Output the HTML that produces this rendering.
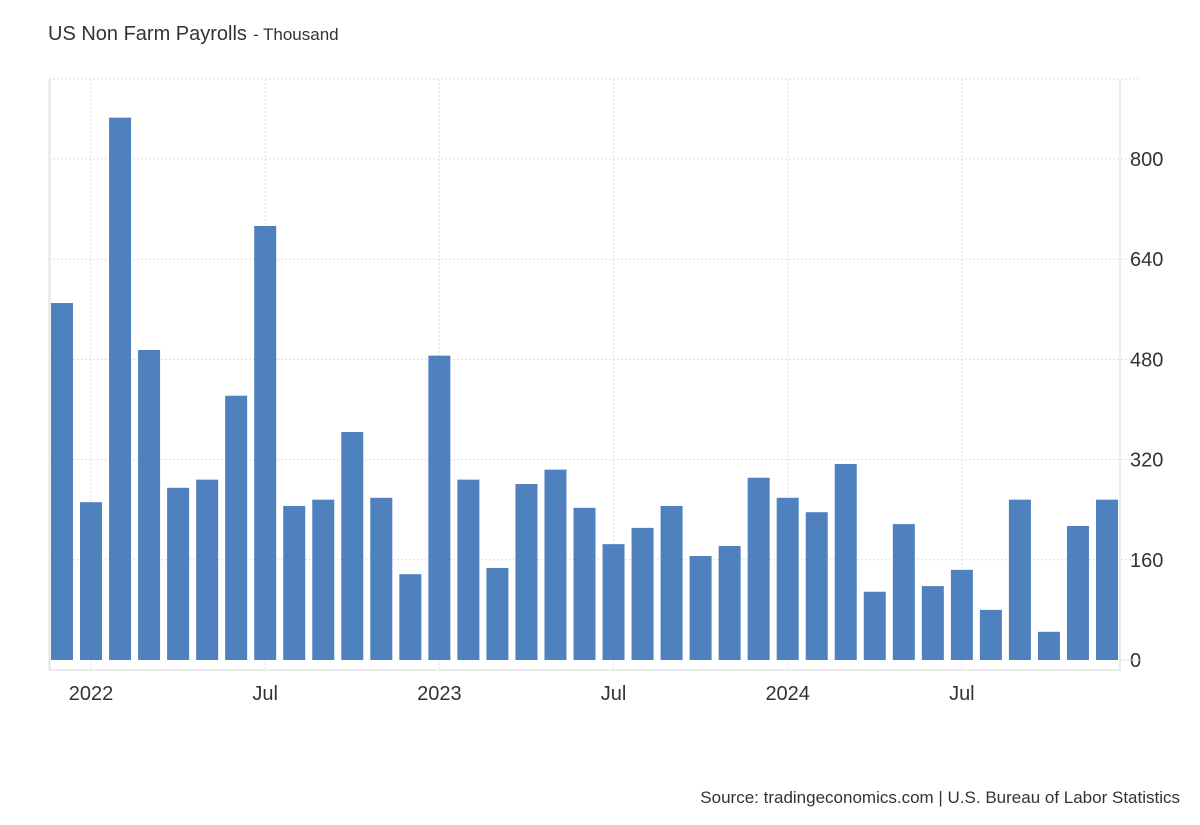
<!DOCTYPE html>
<html><head><meta charset="utf-8"><style>
body{margin:0;background:#fff;}
svg text{font-family:"Liberation Sans",Arial,sans-serif;fill:#333;}
</style></head><body>
<svg width="1200" height="820" viewBox="0 0 1200 820">
<text x="48" y="40" font-size="20">US Non Farm Payrolls<tspan font-size="17" dx="6">- Thousand</tspan></text>
<g id="grid"></g><g id="bars"></g><g id="axes"></g>
<text x="1180" y="803" font-size="17" text-anchor="end">Source: tradingeconomics.com | U.S. Bureau of Labor Statistics</text>
</svg>
<script>
const months = ["2021-12","2022-01","2022-02","2022-03","2022-04","2022-05","2022-06","2022-07","2022-08","2022-09","2022-10","2022-11","2022-12","2023-01","2023-02","2023-03","2023-04","2023-05","2023-06","2023-07","2023-08","2023-09","2023-10","2023-11","2023-12","2024-01","2024-02","2024-03","2024-04","2024-05","2024-06","2024-07","2024-08","2024-09","2024-10","2024-11","2024-12"];
const values = [570,252,866,495,275,288,422,693,246,256,364,259,137,486,288,147,281,304,243,185,211,246,166,182,291,259,236,313,109,217,118,144,80,256,45,214,256];
const yTicks = [0,160,320,480,640,800];
const xLabels = [{i:1,t:"2022"},{i:7,t:"Jul"},{i:13,t:"2023"},{i:19,t:"Jul"},{i:25,t:"2024"},{i:31,t:"Jul"}];
const NS="http://www.w3.org/2000/svg";
const x0=62, step=(1107-62)/36, bw=22;
const xs=i=>x0+i*step;
const ys=v=>660-v*(660-159)/800;
function mk(tag,attrs,parent){const e=document.createElementNS(NS,tag);for(const k in attrs)e.setAttribute(k,attrs[k]);document.getElementById(parent).appendChild(e);return e;}
// grid
mk("line",{x1:49,x2:1140,y1:79,y2:79,stroke:"#ddd","stroke-dasharray":"2,2","stroke-width":1},"grid");
yTicks.forEach(v=>{if(v===0)return;const l=mk("line",{x1:49,x2:1140,y1:ys(v),y2:ys(v),stroke:"#ddd","stroke-dasharray":"2,2","stroke-width":1},"grid");

});
xLabels.forEach(o=>{const l=mk("line",{x1:xs(o.i),x2:xs(o.i),y1:79,y2:670,stroke:"#ddd","stroke-dasharray":"2,2","stroke-width":1},"grid");

});
// bars
values.forEach((v,i)=>{const r=mk("rect",{x:xs(i)-bw/2,y:ys(v),width:bw,height:660-ys(v),fill:"#4e81bd"},"bars");

});
// axes
const la=mk("line",{x1:49.5,x2:49.5,y1:79,y2:670,stroke:"#e3e3e3","stroke-width":2},"axes");


const ra=mk("line",{x1:1120,x2:1120,y1:79,y2:671,stroke:"#e3e3e3","stroke-width":1.5},"axes");


const ba=mk("line",{x1:49,x2:1120,y1:670,y2:670,stroke:"#e3e3e3","stroke-width":1.5},"axes");


yTicks.forEach(v=>{const t=mk("text",{x:1130,y:ys(v)+7,"font-size":20},"axes");t.textContent=v;

});
const tk=mk("line",{x1:1120,x2:1140,y1:660,y2:660,stroke:"#ddd","stroke-width":1},"axes");


xLabels.forEach(o=>{const t=mk("text",{x:xs(o.i),y:700,"font-size":20,"text-anchor":"middle"},"axes");t.textContent=o.t;

});
</script>
</body></html>
